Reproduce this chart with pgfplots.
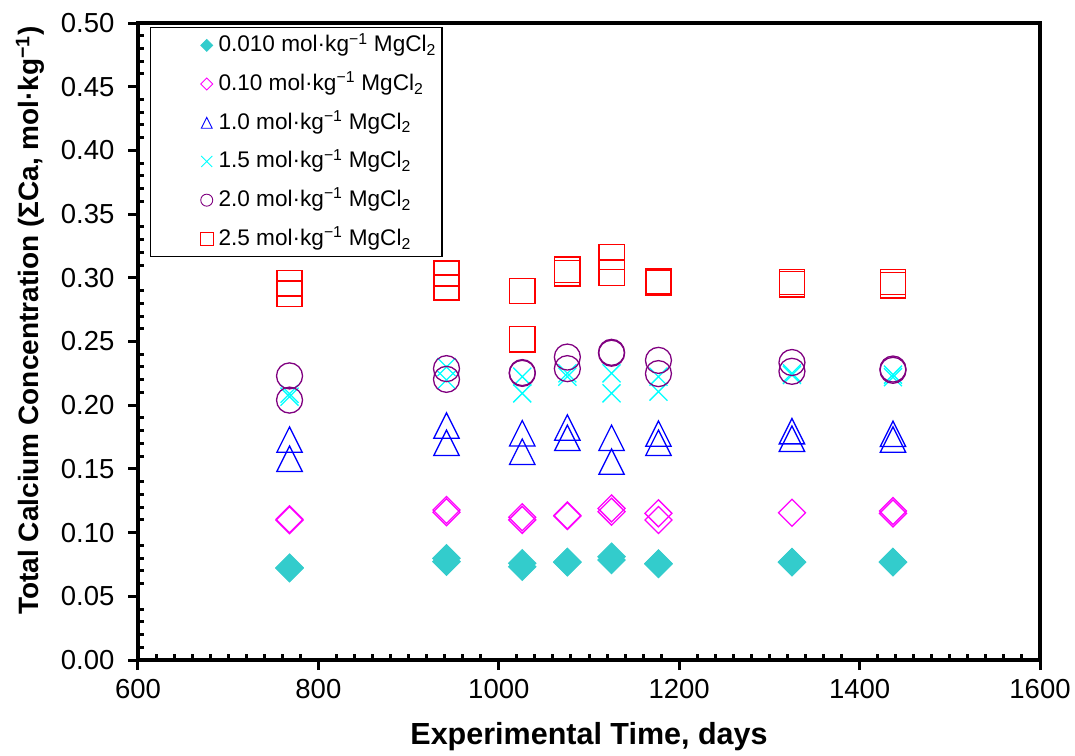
\documentclass[border=0pt]{standalone}
\usepackage{pgfplots}
\pgfplotsset{compat=1.18}
\usepackage{fontspec}
\setmainfont{Liberation Sans}
\definecolor{c1}{RGB}{51,204,204}
\definecolor{c2}{RGB}{255,0,255}
\definecolor{c3}{RGB}{0,0,255}
\definecolor{c4}{RGB}{0,255,255}
\definecolor{c5}{RGB}{128,0,128}
\definecolor{c6}{RGB}{255,0,0}
\pgfdeclareplotmark{exdiamond}{%
  \pgfpathmoveto{\pgfqpoint{0pt}{\pgfplotmarksize}}%
  \pgfpathlineto{\pgfqpoint{\pgfplotmarksize}{0pt}}%
  \pgfpathlineto{\pgfqpoint{0pt}{-\pgfplotmarksize}}%
  \pgfpathlineto{\pgfqpoint{-\pgfplotmarksize}{0pt}}%
  \pgfpathclose\pgfusepathqstroke}
\pgfdeclareplotmark{exdiamond*}{%
  \pgfpathmoveto{\pgfqpoint{0pt}{\pgfplotmarksize}}%
  \pgfpathlineto{\pgfqpoint{\pgfplotmarksize}{0pt}}%
  \pgfpathlineto{\pgfqpoint{0pt}{-\pgfplotmarksize}}%
  \pgfpathlineto{\pgfqpoint{-\pgfplotmarksize}{0pt}}%
  \pgfpathclose\pgfusepathqfillstroke}
\pgfdeclareplotmark{extriangle}{%
  \pgfpathmoveto{\pgfqpoint{0pt}{\pgfplotmarksize}}%
  \pgfpathlineto{\pgfqpoint{\pgfplotmarksize}{-\pgfplotmarksize}}%
  \pgfpathlineto{\pgfqpoint{-\pgfplotmarksize}{-\pgfplotmarksize}}%
  \pgfpathclose\pgfusepathqstroke}
\pgfdeclareplotmark{excross}{%
  \pgfpathmoveto{\pgfqpoint{-\pgfplotmarksize}{-\pgfplotmarksize}}%
  \pgfpathlineto{\pgfqpoint{\pgfplotmarksize}{\pgfplotmarksize}}%
  \pgfpathmoveto{\pgfqpoint{-\pgfplotmarksize}{\pgfplotmarksize}}%
  \pgfpathlineto{\pgfqpoint{\pgfplotmarksize}{-\pgfplotmarksize}}%
  \pgfusepathqstroke}
\newcommand{\legtxt}[1]{#1 mol·kg\textsuperscript{−1} MgCl\textsubscript{2}}
\begin{document}
\begin{tikzpicture}
\path (-138pt,-95pt) rectangle (937pt,660pt);
\begin{axis}[
  scale only axis, width=902pt, height=637pt,
  xmin=600, xmax=1600, ymin=0, ymax=0.5,
  xtick={600,800,1000,1200,1400,1600},
  ytick={0,0.05,0.10,0.15,0.20,0.25,0.30,0.35,0.40,0.45,0.50},
  minor x tick num=9, minor y tick num=4,
  tick pos=left, tick align=outside,
  major tick length=10pt, minor tick length=6pt,
  minor x tick style={yshift=6pt}, minor y tick style={xshift=6pt},
  tick style={line width=3pt, black},
  axis line style={line width=3.5pt},
  scaled ticks=false,
  tick label style={font=\fontsize{27.5}{32}\selectfont},
  /pgf/number format/assume math mode=true,
  xticklabel style={/pgf/number format/1000 sep={}, yshift=-6pt},
  yticklabel style={/pgf/number format/.cd,fixed,fixed zerofill,precision=2, /tikz/xshift=-10pt},
  xlabel={\textbf{Experimental Time, days}},
  ylabel={\textbf{Total Calcium Concentration (ΣCa, mol·kg\textsuperscript{−1})}},
  xlabel style={font=\fontsize{30.5}{35}\selectfont, at={(axis description cs:0.5,-0.1195)}, anchor=center},
  ylabel style={font=\fontsize{28}{33}\selectfont, at={(axis description cs:-0.1197,0.533)}, anchor=center},
  every axis plot/.append style={line width=1.3pt},
  legend image code/.code={\path (0pt,0pt) (61pt,0pt); \draw[#1] plot coordinates {(49.7pt,0pt)};},
  legend style={at={(axis description cs:0.0133,0.9937)}, anchor=north west,
    draw=black, line width=1.2pt, inner sep=6pt, row sep=15.2pt,
    font=\fontsize{22.6}{27}\selectfont,
    nodes={inner sep=0pt, text height=18pt, text depth=5.5pt}},
  legend cell align=left,
]
\addplot[only marks, mark=exdiamond*, mark size=13.5pt, draw=c1, fill=c1, mark options={draw=c1, fill=c1}, legend image post style={mark size=6pt, line width=0.8pt}] coordinates {
(768,0.0720)(768,0.0725)(942,0.0798)(942,0.0772)(1026,0.0759)(1026,0.0732)
(1076,0.0767)(1076,0.0770)(1125,0.0811)(1125,0.0785)(1177,0.0754)(1177,0.0757)
(1325,0.0767)(1325,0.0769)(1437,0.0767)(1437,0.0770)};
\addlegendentry{\legtxt{0.010}}
\addplot[only marks, mark=exdiamond, mark size=13.5pt, c2, legend image post style={mark size=6pt, line width=0.9pt}] coordinates {
(768,0.1097)(768,0.1105)(942,0.1177)(942,0.1160)(1026,0.1100)(1026,0.1120)
(1076,0.1130)(1076,0.1135)(1125,0.1190)(1125,0.1164)(1177,0.1151)(1177,0.1099)
(1325,0.1156)(1437,0.1170)(1437,0.1151)};
\addlegendentry{\legtxt{0.10}}
\addplot[only marks, mark=extriangle, mark size=12.7pt, c3, legend image post style={mark size=5.5pt, line width=0.9pt}] coordinates {
(768,0.1730)(768,0.1580)(942,0.1840)(942,0.1705)(1026,0.1780)(1026,0.1635)
(1076,0.1825)(1076,0.1744)(1125,0.1744)(1125,0.1557)(1177,0.1777)(1177,0.1705)
(1325,0.1796)(1325,0.1737)(1437,0.1775)(1437,0.1730)};
\addlegendentry{\legtxt{1.0}}
\addplot[only marks, mark=excross, mark size=9pt, c4, legend image post style={mark size=5.5pt, line width=0.9pt}] coordinates {
(768,0.2067)(768,0.2090)(942,0.2300)(942,0.2198)(1026,0.2224)(1026,0.2093)
(1076,0.2224)(1076,0.2250)(1125,0.2250)(1125,0.2093)(1177,0.2224)(1177,0.2106)
(1325,0.2237)(1325,0.2250)(1437,0.2220)(1437,0.2240)};
\addlegendentry{\legtxt{1.5}}
\addplot[only marks, mark=o, mark size=13pt, c5, legend image post style={mark size=6pt, line width=0.9pt}] coordinates {
(768,0.2230)(768,0.2040)(942,0.2287)(942,0.2203)(1026,0.2256)(1026,0.2250)
(1076,0.2378)(1076,0.2287)(1125,0.2415)(1125,0.2408)(1177,0.2352)(1177,0.2248)
(1325,0.2335)(1325,0.2266)(1437,0.2284)(1437,0.2274)};
\addlegendentry{\legtxt{2.0}}
\addplot[only marks, mark=square, mark size=12.6pt, c6, legend image post style={mark size=6.5pt, line width=0.9pt}] coordinates {
(768,0.2957)(768,0.2876)(942,0.3034)(942,0.2928)(942,0.2918)(1026,0.2896)(1026,0.2517)
(1076,0.3064)(1076,0.3035)(1125,0.3162)(1125,0.3040)(1177,0.2972)(1177,0.2962)
(1325,0.2967)(1325,0.2949)(1437,0.2967)(1437,0.2940)};
\addlegendentry{\legtxt{2.5}}
\end{axis}
\end{tikzpicture}
\end{document}
